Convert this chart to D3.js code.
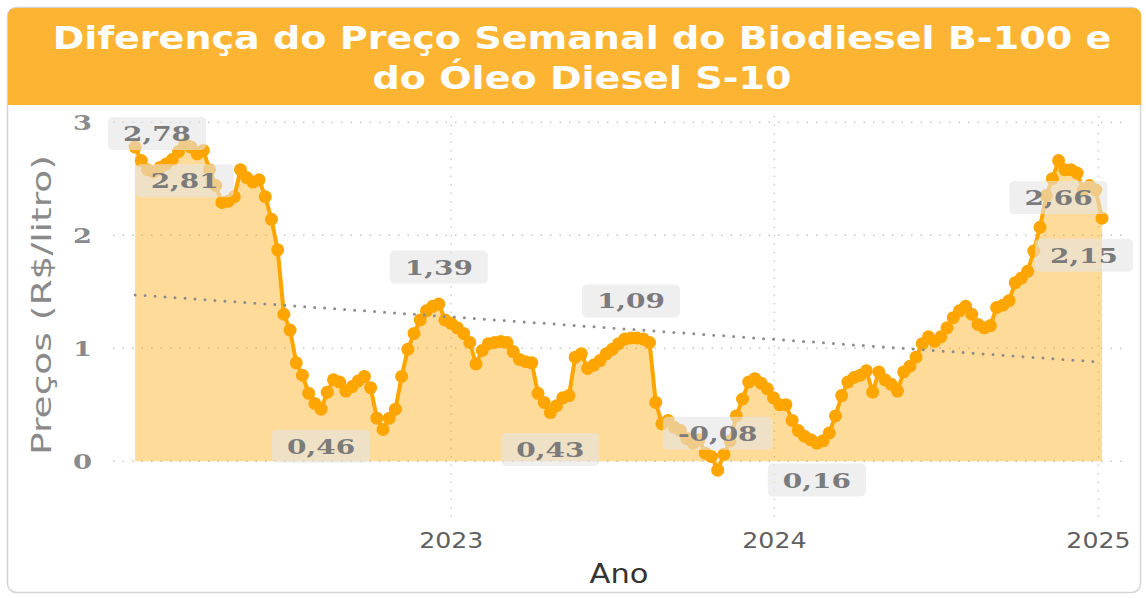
<!DOCTYPE html>
<html>
<head>
<meta charset="utf-8">
<script src="https://cdn.jsdelivr.net/npm/d3@7"></script>
<style>
  body { margin: 0; background: #fff; }
  svg { display: block; font-family: "DejaVu Sans", sans-serif; }
</style>
</head>
<body>
<svg width="1146" height="598"></svg>
<script>
// weekly price difference B-100 minus S-10 (R$/litro), first week below
const startDate = new Date(2022, 0, 9);
const weeklyDiff = [
  2.78, 2.66, 2.58, 2.56, 2.60, 2.63, 2.67, 2.74, 2.81, 2.78,
  2.72, 2.75, 2.58, 2.44, 2.29, 2.30, 2.34, 2.58, 2.51, 2.47,
  2.49, 2.34, 2.14, 1.87, 1.30, 1.16, 0.87, 0.76, 0.60, 0.51,
  0.46, 0.61, 0.72, 0.70, 0.62, 0.66, 0.71, 0.75, 0.65, 0.38,
  0.28, 0.38, 0.46, 0.75, 0.99, 1.13, 1.25, 1.33, 1.37, 1.39,
  1.25, 1.22, 1.18, 1.13, 1.05, 0.86, 0.98, 1.04, 1.05, 1.06,
  1.05, 0.97, 0.90, 0.88, 0.87, 0.60, 0.52, 0.43, 0.49, 0.56,
  0.58, 0.92, 0.95, 0.82, 0.85, 0.89, 0.95, 0.99, 1.04, 1.08,
  1.09, 1.09, 1.08, 1.05, 0.52, 0.33, 0.36, 0.30, 0.27, 0.20,
  0.16, 0.19, 0.07, 0.04, -0.08, 0.06, 0.18, 0.40, 0.55, 0.70,
  0.73, 0.69, 0.64, 0.56, 0.50, 0.50, 0.36, 0.27, 0.22, 0.19,
  0.16, 0.18, 0.25, 0.40, 0.58, 0.70, 0.74, 0.76, 0.80, 0.61,
  0.79, 0.72, 0.68, 0.62, 0.79, 0.84, 0.92, 1.04, 1.10, 1.06,
  1.10, 1.18, 1.27, 1.33, 1.37, 1.30, 1.21, 1.18, 1.20, 1.36,
  1.38, 1.42, 1.58, 1.62, 1.68, 1.86, 2.07, 2.35, 2.50, 2.66,
  2.58, 2.58, 2.55, 2.40, 2.44, 2.40, 2.15
];

// which points carry a data label, and on which side
const labelPoints = [0, 8, 30, 49, 67, 80, 94, 110, 149, 156];
const labelSides = ["above", "below", "below", "above", "below", "above", "above", "below", "below", "below"];

const yTicks = [0, 1, 2, 3];
const yearTicks = [2023, 2024, 2025];
const titleLines = ["Diferença do Preço Semanal do Biodiesel B-100 e", "do Óleo Diesel S-10"];
const yTitle = "Preços (R$/litro)";
const xTitle = "Ano";

const data = weeklyDiff.map((v, i) => ({date: d3.timeDay.offset(startDate, i * 7), value: v}));

const svg = d3.select("svg");
const plot = {left: 113, right: 1125, top: 116, bottom: 521};

// stretch text horizontally (the reference uses a wide face)
function widen(sel, k) {
  sel.each(function() {
    const w = this.getComputedTextLength();
    d3.select(this).attr("textLength", w * k).attr("lengthAdjust", "spacingAndGlyphs");
  });
}

const ptBR = d3.formatLocale({decimal: ",", thousands: ".", grouping: [3], currency: ["R$", ""], minus: "-"});
const fmt = ptBR.format(".2f");

// card + title band
svg.append("rect")
  .attr("x", 7.5).attr("y", 7.5).attr("width", 1133).attr("height", 585)
  .attr("rx", 9).attr("fill", "#fff").attr("stroke", "#d4d4d4").attr("stroke-width", 1.5);

svg.append("path")
  .attr("d", "M8,105 L8,16 Q8,8 16,8 L1133,8 Q1141,8 1141,16 L1141,105 Z")
  .attr("fill", "#FDB432");

svg.selectAll(".title").data(titleLines).enter().append("text")
  .attr("class", "title")
  .attr("x", 582)
  .attr("y", (d, i) => 49 + i * 40)
  .attr("text-anchor", "middle")
  .attr("fill", "#fff")
  .attr("font-weight", "bold")
  .attr("font-size", 32)
  .text(d => d)
  .call(widen, 1.19);

// scales
const x = d3.scaleTime()
  .domain([d3.timeDay.offset(data[0].date, -25), d3.timeDay.offset(data[data.length - 1].date, 26)])
  .range([plot.left, plot.right]);

const y = d3.scaleLinear()
  .domain([-0.53, 3.055])
  .range([plot.bottom, plot.top]);

// gridlines
svg.append("g").selectAll("line").data(yTicks).enter().append("line")
  .attr("x1", plot.left).attr("x2", plot.right)
  .attr("y1", d => y(d)).attr("y2", d => y(d))
  .attr("stroke", "#c6c6c6").attr("stroke-width", 1.5)
  .attr("stroke-dasharray", "1.5,8");

const yearDates = yearTicks.map(yr => new Date(yr, 0, 1));
svg.append("g").selectAll("line").data(yearDates).enter().append("line")
  .attr("x1", d => x(d)).attr("x2", d => x(d))
  .attr("y1", plot.top).attr("y2", plot.bottom)
  .attr("stroke", "#d0d0d0").attr("stroke-width", 1.5)
  .attr("stroke-dasharray", "1.5,7");

// y tick labels
svg.append("g").selectAll("text").data(yTicks).enter().append("text")
  .attr("x", 92)
  .attr("y", d => y(d) + 8)
  .attr("text-anchor", "end")
  .attr("font-family", "'DejaVu Serif', serif")
  .attr("font-weight", "bold")
  .attr("font-size", 21)
  .attr("fill", "#8a8a8a")
  .text(d => d)
  .call(widen, 1.3);

// x tick labels
svg.append("g").selectAll("text").data(yearDates).enter().append("text")
  .attr("x", d => x(d))
  .attr("y", 548)
  .attr("text-anchor", "middle")
  .attr("font-size", 21)
  .attr("fill", "#5f5f5f")
  .text(d => d.getFullYear())
  .call(widen, 1.2);

// axis titles
svg.append("text")
  .attr("x", (plot.left + plot.right) / 2)
  .attr("y", 583)
  .attr("text-anchor", "middle")
  .attr("font-size", 27)
  .attr("fill", "#333")
  .text(xTitle)
  .call(widen, 1.13);

svg.append("text")
  .attr("transform", "translate(51,305) rotate(-90)")
  .attr("text-anchor", "middle")
  .attr("font-size", 27)
  .attr("fill", "#8a8a8a")
  .attr("textLength", 300)
  .attr("lengthAdjust", "spacingAndGlyphs")
  .text(yTitle);

// area + line + dots
const area = d3.area()
  .x(d => x(d.date))
  .y0(y(0))
  .y1(d => y(d.value));

svg.append("path")
  .datum(data)
  .attr("d", area)
  .attr("fill", "#FFA500")
  .attr("fill-opacity", 0.4);

const line = d3.line()
  .x(d => x(d.date))
  .y(d => y(d.value));

svg.append("path")
  .datum(data)
  .attr("d", line)
  .attr("fill", "none")
  .attr("stroke", "#FFA500")
  .attr("stroke-width", 4)
  .attr("stroke-linejoin", "round");

svg.append("g").selectAll("circle").data(data).enter().append("circle")
  .attr("cx", d => x(d.date))
  .attr("cy", d => y(d.value))
  .attr("r", 6.5)
  .attr("fill", "#FFA500");

// linear trend (least squares over the weekly series)
const n = data.length;
const xs = data.map(d => +d.date);
const mx = d3.mean(xs), my = d3.mean(data, d => d.value);
const slope = d3.sum(data, (d, i) => (xs[i] - mx) * (d.value - my)) / d3.sum(xs, t => (t - mx) * (t - mx));
const trend = [data[0].date, data[n - 1].date].map(dt => ({date: dt, value: my + slope * (+dt - mx)}));

svg.append("path")
  .datum(trend)
  .attr("d", line)
  .attr("fill", "none")
  .attr("stroke", "#8c8c8c")
  .attr("stroke-width", 3)
  .attr("stroke-linecap", "round")
  .attr("stroke-dasharray", "0,10");

// data labels
const labels = svg.append("g");
labelPoints.forEach((idx, k) => {
  const d = data[idx];
  const px = x(d.date), py = y(d.value);
  const g = labels.append("g");
  const t = g.append("text")
    .attr("text-anchor", "middle")
    .attr("font-family", "'DejaVu Serif', serif")
    .attr("font-weight", "bold")
    .attr("font-size", 21)
    .attr("fill", "#7b7b7b")
    .text(fmt(d.value))
    .call(widen, 1.33);
  const tw = +t.attr("textLength");
  const bw = tw + 30, bh = 33;
  let cx = px;
  let cy = labelSides[k] === "above" ? py - 37 : py + 37;
  cx = Math.max(108 + bw / 2, Math.min(1133 - bw / 2, cx));
  cy = Math.max(117 + bh / 2, cy);
  g.insert("rect", "text")
    .attr("x", cx - bw / 2).attr("y", cy - bh / 2)
    .attr("width", bw).attr("height", bh)
    .attr("rx", 5)
    .attr("fill", "#e4e4e4")
    .attr("fill-opacity", 0.6);
  t.attr("x", cx).attr("y", cy + 7.5);
});
</script>
</body>
</html>
